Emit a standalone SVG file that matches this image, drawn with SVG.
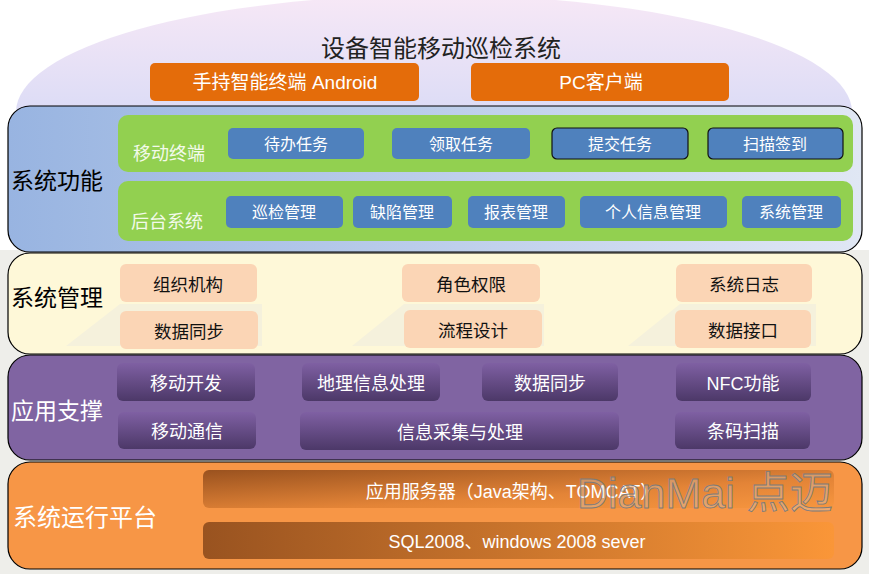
<svg xmlns="http://www.w3.org/2000/svg" width="869" height="574" viewBox="0 0 869 574">
<defs>
<linearGradient id="gDome" x1="0" y1="0" x2="0" y2="1">
<stop offset="0" stop-color="#f7e8f6"/>
<stop offset="0.5" stop-color="#dcdcf6"/>
<stop offset="1" stop-color="#b7cffb"/>
</linearGradient>
<linearGradient id="gBlue" x1="0" y1="0" x2="1" y2="0">
<stop offset="0" stop-color="#98b4e1"/>
<stop offset="1" stop-color="#e0e7f4"/>
</linearGradient>
<linearGradient id="gPurple" x1="0" y1="0" x2="0" y2="1">
<stop offset="0" stop-color="#7f60a3"/>
<stop offset="1" stop-color="#4c3868"/>
</linearGradient>
<linearGradient id="gBar1" x1="0" y1="0" x2="1" y2="1">
<stop offset="0" stop-color="#9a521f"/>
<stop offset="0.6" stop-color="#e38437"/>
<stop offset="1" stop-color="#f7963f"/>
</linearGradient>
<linearGradient id="gBar2" x1="0" y1="0" x2="1" y2="0">
<stop offset="0" stop-color="#995320"/>
<stop offset="1" stop-color="#fa9638"/>
</linearGradient>
</defs>
<style>
text{font-family:"Liberation Sans","Noto Sans CJK SC",sans-serif;text-anchor:middle}
.layer{stroke:#000;stroke-width:1.2}
.lbl{font-size:23px;text-anchor:start}
.orange{fill:#e46c0a}
.green{fill:#92d050}
.blue{fill:#4f81bd}
.blueb{fill:#4f81bd;stroke:#111;stroke-width:1.2}
.peach{fill:#fbd5b5}
.pur{fill:url(#gPurple)}
.tw{fill:#fff}
.tw16{fill:#fff;font-size:16px}
.tb18{fill:#111;font-size:17.5px}
.tw18{fill:#fff;font-size:18px}
.shape{fill:#f5f1dc}
</style>
<rect x="0" y="0" width="869" height="574" fill="#fff"/>
<rect x="0" y="250" width="869" height="324" fill="#eeeeea"/>
<ellipse cx="434" cy="112" rx="418" ry="117" fill="url(#gDome)"/>
<g id="title"><text x="441" y="57" style="font-size:24px;fill:#222">设备智能移动巡检系统</text></g>
<g id="android"><rect x="150" y="63" width="269" height="38" rx="5" class="orange"/><text x="285" y="89" class="tw" style="font-size:19px">手持智能终端 Android</text></g>
<g id="pc"><rect x="471" y="63" width="258" height="38" rx="5" class="orange"/><text x="601" y="89" class="tw" style="font-size:19px">PC客户端</text></g>

<g id="layer-func">
<rect x="8" y="106" width="854" height="146" rx="22" fill="url(#gBlue)" class="layer"/>
<text x="11" y="189" class="lbl" fill="#000">系统功能</text>
<rect x="118" y="115" width="735" height="57" rx="10" class="green"/>
<rect x="118" y="181" width="735" height="60" rx="10" class="green"/>
<text x="169" y="160" style="font-size:18px;fill:#f3faea">移动终端</text>
<text x="167" y="228" style="font-size:18px;fill:#f3faea">后台系统</text>
</g>
<g id="n-daiban"><rect x="228" y="128" width="136" height="31" rx="5" class="blue"/><text x="296" y="150" class="tw16">待办任务</text></g>
<g id="n-lingqu"><rect x="392" y="128" width="138" height="31" rx="5" class="blue"/><text x="461" y="150" class="tw16">领取任务</text></g>
<g id="n-tijiao"><rect x="552" y="128" width="136" height="31" rx="5" class="blueb"/><text x="620" y="150" class="tw16">提交任务</text></g>
<g id="n-saomiao"><rect x="708" y="128" width="135" height="31" rx="5" class="blueb"/><text x="775" y="150" class="tw16">扫描签到</text></g>
<g id="n-xunjian"><rect x="226" y="196" width="117" height="32" rx="5" class="blue"/><text x="284" y="218" class="tw16">巡检管理</text></g>
<g id="n-quexian"><rect x="353" y="196" width="99" height="32" rx="5" class="blue"/><text x="402" y="218" class="tw16">缺陷管理</text></g>
<g id="n-baobiao"><rect x="468" y="196" width="97" height="32" rx="5" class="blue"/><text x="516" y="218" class="tw16">报表管理</text></g>
<g id="n-geren"><rect x="580" y="196" width="147" height="32" rx="5" class="blue"/><text x="653" y="218" class="tw16">个人信息管理</text></g>
<g id="n-xitong"><rect x="742" y="196" width="99" height="32" rx="5" class="blue"/><text x="791" y="218" class="tw16">系统管理</text></g>

<g id="layer-mgmt">
<rect x="8" y="253" width="854" height="101" rx="22" fill="#fef8d8" class="layer"/>
<polygon points="66,346 120,304 262,304 262,346" class="shape"/>
<polygon points="352,346 404,304 544,304 544,346" class="shape"/>
<polygon points="628,346 680,304 816,304 816,346" class="shape"/>
<text x="11" y="306" class="lbl" fill="#000">系统管理</text>
</g>
<g id="n-zuzhi"><rect x="120" y="264" width="137" height="38" rx="6" class="peach"/><text x="188" y="291" class="tb18">组织机构</text></g>
<g id="n-shuju1"><rect x="120" y="311" width="138" height="38" rx="6" class="peach"/><text x="189" y="338" class="tb18">数据同步</text></g>
<g id="n-juese"><rect x="402" y="264" width="138" height="38" rx="6" class="peach"/><text x="471" y="291" class="tb18">角色权限</text></g>
<g id="n-liucheng"><rect x="404" y="310" width="138" height="38" rx="6" class="peach"/><text x="473" y="337" class="tb18">流程设计</text></g>
<g id="n-rizhi"><rect x="676" y="264" width="136" height="38" rx="6" class="peach"/><text x="744" y="291" class="tb18">系统日志</text></g>
<g id="n-jiekou"><rect x="675" y="310" width="136" height="38" rx="6" class="peach"/><text x="743" y="337" class="tb18">数据接口</text></g>

<g id="layer-support">
<rect x="8" y="355" width="854" height="105" rx="22" fill="#8064a2" class="layer"/>
<text x="11" y="419" class="lbl" fill="#fff">应用支撑</text>
</g>
<g id="n-yidongkaifa"><rect x="117" y="363" width="138" height="38" rx="6" class="pur"/><text x="186" y="390" class="tw18">移动开发</text></g>
<g id="n-dili"><rect x="302" y="363" width="138" height="38" rx="6" class="pur"/><text x="371" y="390" class="tw18">地理信息处理</text></g>
<g id="n-shuju2"><rect x="482" y="363" width="136" height="38" rx="6" class="pur"/><text x="550" y="390" class="tw18">数据同步</text></g>
<g id="n-nfc"><rect x="676" y="363" width="135" height="38" rx="6" class="pur"/><text x="743" y="390" class="tw18">NFC功能</text></g>
<g id="n-tongxin"><rect x="118" y="412" width="138" height="37" rx="6" class="pur"/><text x="187" y="438" class="tw18">移动通信</text></g>
<g id="n-caiji"><rect x="300" y="412" width="319" height="38" rx="6" class="pur"/><text x="460" y="439" class="tw18">信息采集与处理</text></g>
<g id="n-tiaoma"><rect x="675" y="412" width="135" height="37" rx="6" class="pur"/><text x="743" y="438" class="tw18">条码扫描</text></g>

<g id="layer-platform">
<rect x="8" y="462" width="854" height="107" rx="22" fill="#f79646" class="layer"/>
<text x="13" y="526" class="lbl" fill="#fff" style="font-size:24px">系统运行平台</text>
</g>
<g id="n-appserver"><rect x="203" y="470" width="631" height="38" rx="6" fill="url(#gBar1)"/><text x="512" y="498" class="tw" style="font-size:18px">应用服务器（Java架构、TOMCAT）</text></g>
<g id="n-sql"><rect x="203" y="522" width="631" height="37" rx="6" fill="url(#gBar2)"/><text x="517" y="548" class="tw" style="font-size:18px">SQL2008、windows 2008 sever</text></g>
<g id="watermark"><text x="577" y="508" style="font-size:43px;text-anchor:start;fill:rgba(215,205,195,0.35);stroke:#7c7c7c;stroke-width:0.9">DianMai 点迈</text></g>
<g id="connectors"></g>
</svg>
